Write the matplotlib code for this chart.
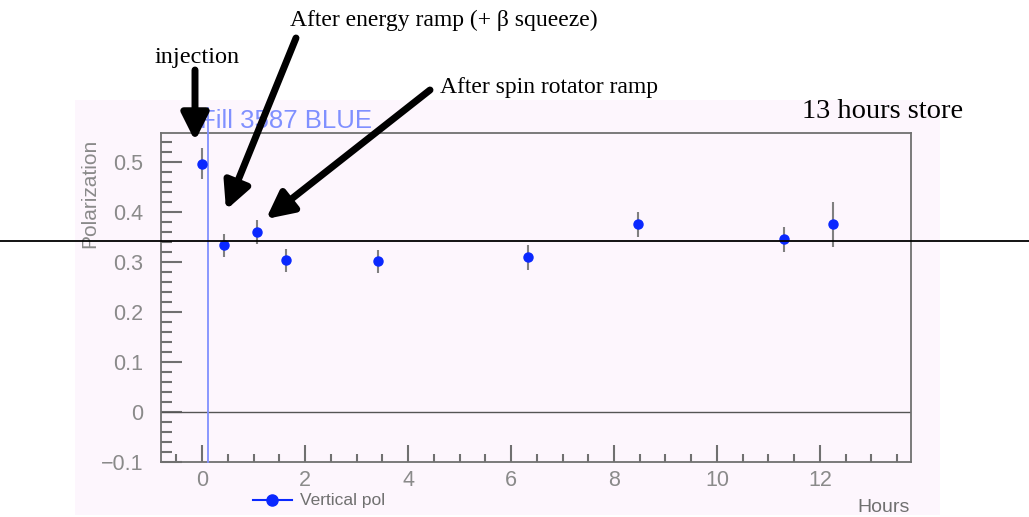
import matplotlib
matplotlib.use('Agg')
import matplotlib.pyplot as plt
import numpy as np
from matplotlib.lines import Line2D
from matplotlib.patches import Rectangle, FancyArrowPatch
from matplotlib.ticker import MultipleLocator
import matplotlib.transforms as mtransforms

# data
hours = [0.0, 0.43, 1.07, 1.63, 3.42, 6.33, 8.47, 11.30, 12.25]
polar = [0.497, 0.334, 0.360, 0.304, 0.302, 0.310, 0.376, 0.346, 0.376]
polar_err = [0.031, 0.023, 0.024, 0.023, 0.023, 0.025, 0.025, 0.025, 0.045]
store_level = 0.342
fill_start = 0.12

W, H = 1029, 517
fig = plt.figure(figsize=(W / 100, H / 100), dpi=100)

def fx(px):
    return px / W

def fy(py):
    return 1 - py / H

# pink canvas behind the ROOT plot
fig.patches.append(Rectangle((fx(75), fy(515)), fx(940) - fx(75), fy(100) - fy(515),
                             transform=fig.transFigure, facecolor='#fdf6fd', edgecolor='none', zorder=-10))

ax = fig.add_axes([fx(161), fy(462), fx(911) - fx(161), fy(133) - fy(462)])
ax.set_facecolor('#fdf6fd')
ax.set_xlim(-0.8, 13.77)
ax.set_ylim(-0.1, 0.558)

grey = '#707070'
for s in ['top', 'right', 'left', 'bottom']:
    ax.spines[s].set_color(grey)
    ax.spines[s].set_linewidth(1.3)

ax.xaxis.set_minor_locator(MultipleLocator(0.5))
ax.yaxis.set_minor_locator(MultipleLocator(0.02))
ax.tick_params(which='both', direction='in', color=grey, width=1.5, top=False, right=False)
ax.tick_params(which='major', axis='y', length=15)
ax.tick_params(which='minor', axis='y', length=8)
ax.tick_params(which='major', axis='x', length=12)
ax.tick_params(which='minor', axis='x', length=6)
ax.tick_params(labelsize=15.5, labelcolor='#8a8a8a')
ax.tick_params(axis='y', pad=13)
ax.tick_params(axis='x', pad=6)
ax.set_xticks([0, 2, 4, 6, 8, 10, 12])
ax.set_xticklabels(['0', '2', '4', '6', '8', '10', '12'], family='Liberation Sans')
ax.set_yticks([-0.1, 0, 0.1, 0.2, 0.3, 0.4, 0.5])
ax.set_yticklabels(['\u22120.1', '0', '0.1', '0.2', '0.3', '0.4', '0.5'], family='Liberation Sans')

ax.axhline(0, color='#555555', lw=1)

ax.errorbar(hours, polar, yerr=polar_err, fmt='o', color='#0a28ff', ms=6.5,
            ecolor='#808080', elinewidth=1.5, capsize=0, zorder=5)

# fill start marker line, reaching into the title
ax.plot([fill_start, fill_start], [-0.1, 0.608], color='#8090ff', lw=1.3, clip_on=False, zorder=4)

fig.text(fx(90), fy(193), 'Polarization', rotation=90, ha='center', va='center', color='#8a8a8a',
         fontsize=15, family='Liberation Sans')
fig.text(fx(910), fy(507), 'Hours', ha='right', va='center', color='#707070', fontsize=14,
         family='Liberation Sans')
fig.text(fx(200), fy(121), 'Fill 3587 BLUE', ha='left', va='center', color='#8090ff', fontsize=18.5,
         family='Liberation Sans')

# legend
fig.add_artist(Line2D([fx(253), fx(292)], [fy(500), fy(500)], color='#0a28ff', lw=1.5,
                      transform=fig.transFigure))
fig.add_artist(Line2D([fx(272)], [fy(500)], color='#0a28ff', marker='o', ms=8,
                      transform=fig.transFigure))
fig.text(fx(300), fy(500), 'Vertical pol', ha='left', va='center', color='#707070', fontsize=12.5,
         family='Liberation Sans')

# store level line across the whole picture
trans = mtransforms.blended_transform_factory(fig.transFigure, ax.transData)
fig.add_artist(Line2D([0, 1], [store_level, store_level], color='black', lw=1.3, transform=trans, zorder=6))

# annotations
serif = 'Liberation Serif'
fig.text(fx(155), fy(57), 'injection', ha='left', va='center', fontsize=17.5, family=serif)
fig.text(fx(290), fy(20), 'After energy ramp (+ \u03b2 squeeze)', ha='left', va='center', fontsize=17, family=serif)
fig.text(fx(440), fy(87), 'After spin rotator ramp', ha='left', va='center', fontsize=17, family=serif)
fig.text(fx(963), fy(112), '13 hours store', ha='right', va='center', fontsize=20.5, family=serif)

arrows = [((195, 70), (195, 141)), ((296, 38), (226, 210)), ((430, 90), (266, 219))]
for (x0, y0), (x1, y1) in arrows:
    fig.add_artist(FancyArrowPatch(
        (fx(x0), fy(y0)), (fx(x1), fy(y1)), transform=fig.transFigure,
        arrowstyle='-|>,head_length=0.9,head_width=0.45', mutation_scale=18,
        lw=5, color='black', shrinkA=0, shrinkB=0, zorder=10))

fig.savefig('out.png', dpi=100)
